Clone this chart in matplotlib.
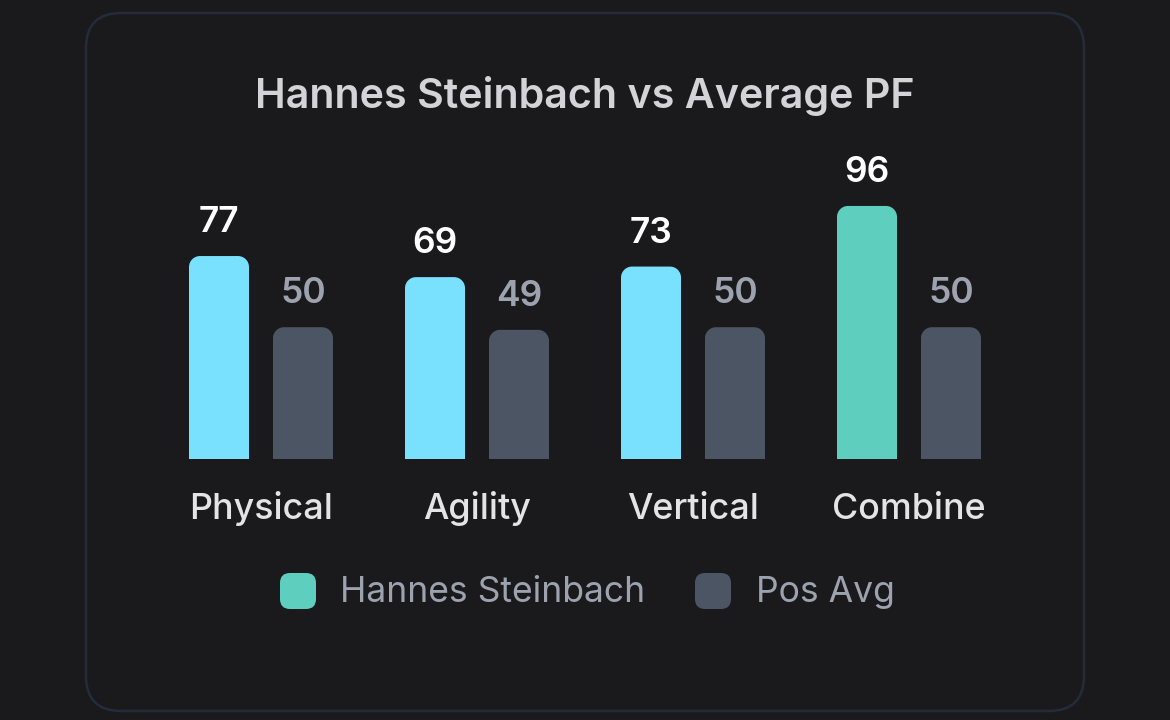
import matplotlib
matplotlib.use("Agg")
import matplotlib.pyplot as plt
from matplotlib.patches import FancyBboxPatch, PathPatch
from matplotlib.path import Path
import numpy as np

plt.rcParams['font.family'] = ['Inter', 'DejaVu Sans']

title = "Hannes Steinbach vs Average PF"
categories = ["Physical", "Agility", "Vertical", "Combine"]
player_name = "Hannes Steinbach"
avg_name = "Pos Avg"
player_values = [77, 69, 73, 96]
avg_values = [50, 49, 50, 50]

BG = "#1a1a1d"
BORDER = "#222c3a"
CYAN = "#79e0fe"
TEAL = "#5ecfbe"
GRAY = "#4b5563"
player_colors = [CYAN, CYAN, CYAN, TEAL]

W, H = 1170, 720
DPI = 100
fig = plt.figure(figsize=(W / DPI, H / DPI), dpi=DPI)
fig.patch.set_facecolor(BG)

def fx(px):
    return px / W

def fy(py_top):
    return 1 - py_top / H

# card
card = FancyBboxPatch((fx(86), fy(711)), fx(1084 - 86), (711 - 13) / H,
                      boxstyle="round,pad=0,rounding_size=0.03",
                      transform=fig.transFigure, facecolor=BG, edgecolor=BORDER,
                      linewidth=1.8, mutation_aspect=W / H, zorder=-5)
fig.patches.append(card)

# axes: x [-0.5, 3.5] -> px 153..1017 ; y [0,100] -> baseline 459, 100 at 195.4
ax_left, ax_right = 153, 1017
base, top100 = 459, 459 - 263.6
ax = fig.add_axes([fx(ax_left), fy(base), fx(ax_right - ax_left), (base - top100) / H])
ax.set_zorder(5)
ax.set_xlim(-0.5, len(categories) - 0.5)
ax.set_ylim(0, 100)
ax.axis("off")
ax.patch.set_alpha(0)

x = np.arange(len(categories))
bw = 60 / 216
off = 42 / 216
b1 = ax.bar(x - off, player_values, width=bw, color=player_colors)
b2 = ax.bar(x + off, avg_values, width=bw, color=GRAY)

fig.canvas.draw()
pxx = ax.transData.transform((1, 0))[0] - ax.transData.transform((0, 0))[0]
pxy = ax.transData.transform((0, 1))[1] - ax.transData.transform((0, 0))[1]
R = 11.0
rx, ry = R / pxx, R / pxy

def round_top(rect):
    x0, y0 = rect.get_x(), rect.get_y()
    w, h = rect.get_width(), rect.get_height()
    k = 0.5523
    verts = [(x0, y0), (x0, y0 + h - ry),
             (x0, y0 + h - ry + k * ry), (x0 + rx - k * rx, y0 + h), (x0 + rx, y0 + h),
             (x0 + w - rx, y0 + h),
             (x0 + w - rx + k * rx, y0 + h), (x0 + w, y0 + h - ry + k * ry), (x0 + w, y0 + h - ry),
             (x0 + w, y0), (x0, y0)]
    codes = [Path.MOVETO, Path.LINETO,
             Path.CURVE4, Path.CURVE4, Path.CURVE4,
             Path.LINETO,
             Path.CURVE4, Path.CURVE4, Path.CURVE4,
             Path.LINETO, Path.CLOSEPOLY]
    pp = PathPatch(Path(verts, codes), facecolor=rect.get_facecolor(), edgecolor="none")
    ax.add_patch(pp)
    rect.set_visible(False)

for r in list(b1) + list(b2):
    round_top(r)

PT = 0.72  # px -> pt at dpi 100
for r, v in zip(b1, player_values):
    ax.annotate(str(v), (r.get_x() + r.get_width() / 2, v), xytext=(0, 24 * PT),
                textcoords="offset points", ha="center", va="baseline",
                fontsize=25.5, fontweight="semibold", color="#ffffff", annotation_clip=False)
for r, v in zip(b2, avg_values):
    ax.annotate(str(v), (r.get_x() + r.get_width() / 2, v), xytext=(0, 24 * PT),
                textcoords="offset points", ha="center", va="baseline",
                fontsize=25.5, fontweight="semibold", color="#9ca3af", annotation_clip=False)
for xi, c in zip(x, categories):
    ax.annotate(c, (xi, 0), xytext=(0, -60 * PT), textcoords="offset points",
                ha="center", va="baseline", fontsize=25.8, fontweight="medium",
                color="#e4e4e7", annotation_clip=False)

fig.text(fx(585), fy(108), title, ha="center", va="baseline", fontsize=29.7,
         fontweight="semibold", color="#d4d4d8")

# legend
for sx, tx, col, lab in [(280, 340, TEAL, player_name), (695, 756, GRAY, avg_name)]:
    sq = FancyBboxPatch((fx(sx), fy(609)), fx(36), 36 / H,
                        boxstyle="round,pad=0,rounding_size=0.0085",
                        transform=fig.transFigure, facecolor=col, edgecolor="none",
                        mutation_aspect=W / H)
    fig.patches.append(sq)
    fig.text(fx(tx), fy(602), lab, ha="left", va="baseline", fontsize=25.6,
             color="#9ca3af")

fig.savefig("out.png", dpi=DPI, facecolor=BG)
